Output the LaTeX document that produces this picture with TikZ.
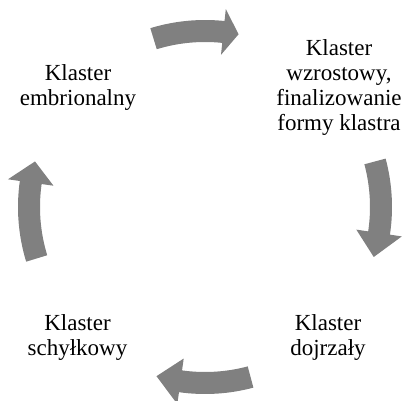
\documentclass[tikz,border=0pt]{standalone}
\usepackage{fontspec}
\setmainfont{Liberation Serif}
\definecolor{arrgray}{RGB}{128,128,128}
\newcommand{\cyclearrow}[3]{% start angle, head base angle, tip angle
  \fill[arrgray] ([shift={(C)}]#1:187pt) arc[start angle=#1, end angle=#2, radius=187pt]
    -- ([shift={(C)}]#2:199pt) -- ([shift={(C)}]#3:176pt) -- ([shift={(C)}]#2:153pt)
    -- ([shift={(C)}]#2:165pt) arc[start angle=#2, end angle=#1, radius=165pt] -- cycle;}
\begin{document}
\begin{tikzpicture}[x=1pt,y=1pt,
  lbl/.style={align=center,inner sep=0pt,font=\fontsize{23pt}{25pt}\selectfont}]
\useasboundingbox (0,0) rectangle (407,400);
\coordinate (C) at (205,193);
\cyclearrow{107}{84}{79}
\cyclearrow{15}{-8.5}{-16.5}
\cyclearrow{-75}{-98}{-106}
\cyclearrow{197}{172}{165}
\node[lbl] (tr) at (339,312.8) {Klaster\\wzrostowy,\\finalizowanie\\formy klastra};
\node[lbl] (tl) at (78,312.4) {Klaster\\embrionalny};
\node[lbl] (bl) at (77.5,62.8) {Klaster\\schyłkowy};
\node[lbl] (br) at (328,62.8) {Klaster\\dojrzały};
\end{tikzpicture}
\end{document}
